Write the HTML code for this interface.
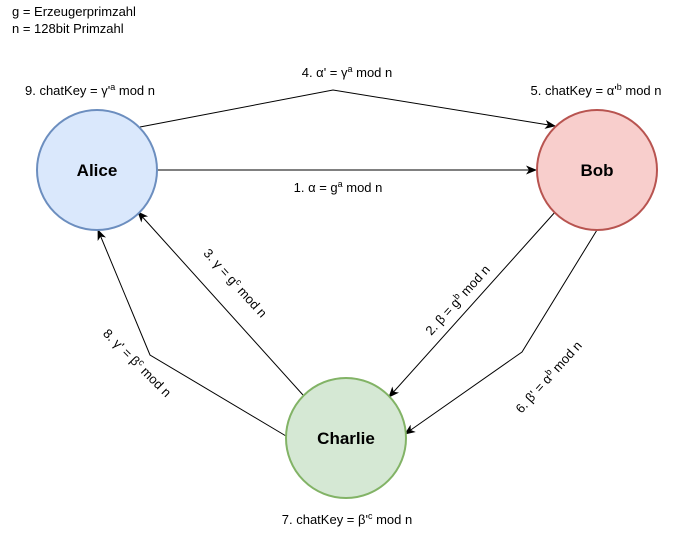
<!DOCTYPE html>
<html><head><meta charset="utf-8"><style>
body{margin:0;background:#fff}
svg text{font-family:"Liberation Sans",sans-serif;font-size:13px;fill:#000}
</style></head><body>
<svg width="695" height="529" viewBox="0 0 695 529" xmlns="http://www.w3.org/2000/svg">
<defs><marker id="a" markerWidth="12" markerHeight="12" refX="10" refY="6" orient="auto" markerUnits="userSpaceOnUse"><path d="M0,1.5 L11,6 L0,10.5 L3,6 Z" fill="#000"/></marker></defs>
<g fill="none" stroke="#000" stroke-width="1" marker-end="url(#a)">
<path d="M140,127 L333,90 L555,126"/>
<path d="M157,170 L536,170"/>
<path d="M556,211 L389,397"/>
<path d="M597,230 L522,352 L405,434"/>
<path d="M303,395 L138,212"/>
<path d="M286,436 L150,355 L98,230"/>
</g>
<circle cx="97" cy="170" r="60" fill="#dae8fc" stroke="#6c8ebf" stroke-width="2"/>
<circle cx="597" cy="170" r="60" fill="#f8cecc" stroke="#b85450" stroke-width="2"/>
<circle cx="346" cy="438" r="60" fill="#d5e8d4" stroke="#82b366" stroke-width="2"/>
<text x="97" y="176" text-anchor="middle" style="font-weight:bold;font-size:17px">Alice</text>
<text x="597" y="176" text-anchor="middle" style="font-weight:bold;font-size:17px">Bob</text>
<text x="346" y="444" text-anchor="middle" style="font-weight:bold;font-size:17px">Charlie</text>
<text x="12" y="16">g = Erzeugerprimzahl</text>
<text x="12" y="33">n = 128bit Primzahl</text>
<text x="90" y="95" text-anchor="middle">9. chatKey = γ'<tspan dy="-5" font-size="9">a</tspan><tspan dy="5"> mod n</tspan></text>
<text x="596" y="95" text-anchor="middle">5. chatKey = α'<tspan dy="-5" font-size="9">b</tspan><tspan dy="5"> mod n</tspan></text>
<text x="347" y="77" text-anchor="middle">4. α' = γ<tspan dy="-5" font-size="9">a</tspan><tspan dy="5"> mod n</tspan></text>
<text x="338" y="192" text-anchor="middle">1. α = g<tspan dy="-5" font-size="9">a</tspan><tspan dy="5"> mod n</tspan></text>
<text x="347" y="524" text-anchor="middle">7. chatKey = β'<tspan dy="-5" font-size="9">c</tspan><tspan dy="5"> mod n</tspan></text>
<text transform="translate(461,303) rotate(-48)" text-anchor="middle">2. β = g<tspan dy="-5" font-size="9">b</tspan><tspan dy="5"> mod n</tspan></text>
<text transform="translate(552,380) rotate(-48)" text-anchor="middle">6. β' = α<tspan dy="-5" font-size="9">b</tspan><tspan dy="5"> mod n</tspan></text>
<text transform="translate(232,286) rotate(48)" text-anchor="middle">3. γ = g<tspan dy="-5" font-size="9">c</tspan><tspan dy="5"> mod n</tspan></text>
<text transform="translate(134,366) rotate(45)" text-anchor="middle">8. γ' = β<tspan dy="-5" font-size="9">c</tspan><tspan dy="5"> mod n</tspan></text>
</svg>
</body></html>
